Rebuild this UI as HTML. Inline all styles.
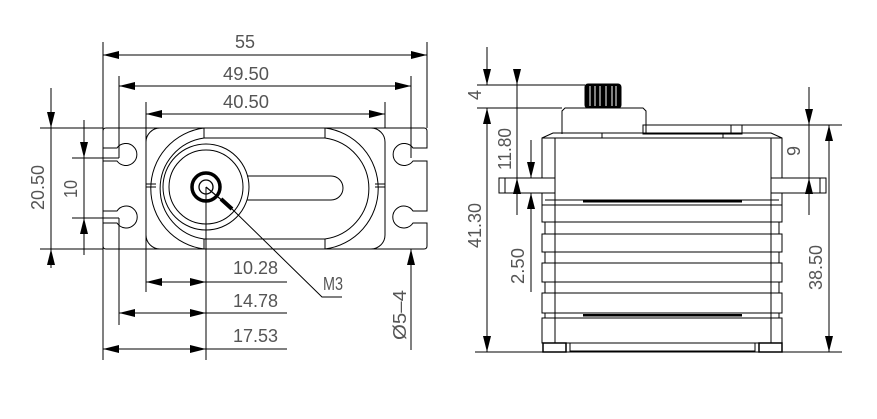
<!DOCTYPE html>
<html><head><meta charset="utf-8"><style>
html,body{margin:0;padding:0;background:#fff;width:877px;height:419px;overflow:hidden}
svg{display:block}
text{font-family:"Liberation Sans",sans-serif;font-size:18px;fill:#555}
</style></head><body>
<svg width="877" height="419" viewBox="0 0 877 419" xmlns="http://www.w3.org/2000/svg">
<defs>
<marker id="a" markerUnits="userSpaceOnUse" markerWidth="18" markerHeight="10" refX="16" refY="4" orient="auto"><path d="M0,0 L16,4 L0,8 z" fill="#000"/></marker>
</defs>
<g stroke="#000" stroke-width="1" fill="none">
<line x1="103" y1="42" x2="103" y2="360"/>
<line x1="427" y1="42" x2="427" y2="128"/>
<line x1="265" y1="55" x2="103" y2="55" marker-end="url(#a)"/>
<line x1="265" y1="55" x2="427" y2="55" marker-end="url(#a)"/>
<line x1="119" y1="76" x2="119" y2="158"/>
<line x1="411" y1="76" x2="411" y2="158"/>
<line x1="265" y1="86" x2="119" y2="86" marker-end="url(#a)"/>
<line x1="265" y1="86" x2="411" y2="86" marker-end="url(#a)"/>
<line x1="146" y1="102" x2="146" y2="292"/>
<line x1="385" y1="102" x2="385" y2="128"/>
<line x1="265" y1="114" x2="146" y2="114" marker-end="url(#a)"/>
<line x1="265" y1="114" x2="385" y2="114" marker-end="url(#a)"/>
<line x1="40" y1="128" x2="103" y2="128"/>
<line x1="40" y1="249" x2="103" y2="249"/>
<line x1="51" y1="88" x2="51" y2="128" marker-end="url(#a)"/>
<line x1="51" y1="268" x2="51" y2="249" marker-end="url(#a)"/>
<line x1="51" y1="128" x2="51" y2="249"/>
<line x1="72" y1="158" x2="119" y2="158"/>
<line x1="72" y1="218" x2="119" y2="218"/>
<line x1="84" y1="120" x2="84" y2="158" marker-end="url(#a)"/>
<line x1="84" y1="255" x2="84" y2="218" marker-end="url(#a)"/>
<line x1="84" y1="158" x2="84" y2="218"/>
<line x1="119" y1="218" x2="119" y2="325"/>
<path d="M106,128 H424 Q427,128 427,131 V148 H413 A11,11 0 1 0 413 161 H427 V211 H413 A11,11 0 1 0 413 223 H427 V246 Q427,249 424,249 H106 Q103,249 103,246 V223 H117 A11,11 0 1 0 117 211 H103 V161 H117 A11,11 0 1 0 117 148 H103 V131 Q103,128 106,128 Z"/>
<rect x="146" y="128" width="239" height="121" rx="14"/>
<path d="M204,128 A61,61 0 0 0 204,249"/>
<path d="M204,138 A51,51 0 0 0 204,239"/>
<path d="M325,128 A61,61 0 0 1 325,249"/>
<path d="M325,138 A51,51 0 0 1 325,239"/>
<line x1="204" y1="138" x2="325" y2="138"/>
<line x1="204" y1="239" x2="325" y2="239"/>
<line x1="204" y1="128" x2="204" y2="138"/>
<line x1="325" y1="128" x2="325" y2="138"/>
<line x1="204" y1="239" x2="204" y2="249"/>
<line x1="325" y1="239" x2="325" y2="249"/>
<line x1="146" y1="184" x2="156" y2="184"/><line x1="146" y1="187" x2="156" y2="187"/>
<line x1="375" y1="184" x2="385" y2="184"/><line x1="375" y1="187" x2="385" y2="187"/>
<circle cx="206" cy="187" r="43"/>
<circle cx="206" cy="187" r="37"/>
<path d="M247,176 H331 A12,12 0 0 1 331,200 H247"/>
<circle cx="206" cy="187" r="14" stroke-width="3.5"/>
<circle cx="206" cy="187" r="7" stroke-width="1.3"/>
<line x1="206" y1="187" x2="230" y2="207" stroke-width="1.2"/>
<line x1="221" y1="199" x2="232" y2="209" stroke-width="4"/>
<polyline points="230,207 322,297 342,297"/>
<line x1="206" y1="187" x2="206" y2="360"/>
<line x1="160" y1="282" x2="146" y2="282" marker-end="url(#a)"/>
<line x1="180" y1="282" x2="206" y2="282" marker-end="url(#a)"/>
<line x1="146" y1="282" x2="287" y2="282"/>
<line x1="119" y1="313" x2="287" y2="313"/>
<line x1="160" y1="313" x2="119" y2="313" marker-end="url(#a)"/>
<line x1="180" y1="313" x2="206" y2="313" marker-end="url(#a)"/>
<line x1="103" y1="349" x2="287" y2="349"/>
<line x1="150" y1="349" x2="103" y2="349" marker-end="url(#a)"/>
<line x1="170" y1="349" x2="206" y2="349" marker-end="url(#a)"/>
<line x1="411" y1="350" x2="411" y2="249" marker-end="url(#a)"/>

<line x1="477" y1="85" x2="585" y2="85"/>
<line x1="477" y1="108" x2="562" y2="108"/>
<line x1="487" y1="47" x2="487" y2="85" marker-end="url(#a)"/>
<line x1="487" y1="130" x2="487" y2="108" marker-end="url(#a)"/>
<line x1="487" y1="108" x2="487" y2="352" marker-end="url(#a)"/>
<line x1="475" y1="352" x2="842" y2="352"/>
<line x1="517" y1="70" x2="517" y2="85" marker-end="url(#a)"/>
<line x1="517" y1="85" x2="517" y2="215"/>
<line x1="517" y1="210" x2="517" y2="178" marker-end="url(#a)"/>
<line x1="531" y1="140" x2="531" y2="178" marker-end="url(#a)"/>
<line x1="531" y1="292" x2="531" y2="193" marker-end="url(#a)"/>
<line x1="742" y1="125" x2="842" y2="125"/>
<line x1="809" y1="87" x2="809" y2="125" marker-end="url(#a)"/>
<line x1="809" y1="125" x2="809" y2="215"/>
<line x1="809" y1="210" x2="809" y2="178" marker-end="url(#a)"/>
<line x1="829" y1="240" x2="829" y2="125" marker-end="url(#a)"/>
<line x1="829" y1="240" x2="829" y2="352" marker-end="url(#a)"/>
<rect x="585" y="84" width="36" height="24" rx="3" fill="#000"/>
<path d="M562,134 V111 L565,108 H643 L646,111 V134"/>
<rect x="643" y="125" width="99" height="9"/>
<line x1="731" y1="125" x2="731" y2="134"/>
<path d="M542,178 V138 L553,133 H771 L782,138 V178"/>
<line x1="542" y1="138" x2="782" y2="138"/>
<line x1="555" y1="138" x2="555" y2="178"/>
<line x1="771" y1="138" x2="771" y2="178"/>
<line x1="602" y1="133" x2="602" y2="138"/>
<line x1="723" y1="133" x2="723" y2="138"/>
<rect x="499" y="178" width="56" height="15"/>
<rect x="771" y="178" width="55" height="15"/>
<line x1="505" y1="178" x2="505" y2="193"/>
<line x1="820" y1="178" x2="820" y2="193"/>
<line x1="542" y1="193" x2="542" y2="205"/>
<line x1="782" y1="193" x2="782" y2="205"/>
<line x1="545" y1="200" x2="779" y2="200"/>
<rect x="542" y="205" width="240" height="17"/>
<rect x="545" y="222" width="234" height="12"/>
<rect x="542" y="234" width="240" height="18"/>
<rect x="545" y="252" width="234" height="11"/>
<rect x="542" y="263" width="240" height="19"/>
<rect x="545" y="282" width="234" height="11"/>
<rect x="542" y="293" width="240" height="20"/>
<rect x="545" y="313" width="234" height="5"/>
<rect x="542" y="318" width="240" height="25"/>
<line x1="555" y1="193" x2="555" y2="343"/>
<line x1="771" y1="193" x2="771" y2="343"/>
<rect x="543" y="343" width="23" height="9" stroke-width="1.5"/>
<rect x="759" y="343" width="23" height="9" stroke-width="1.5"/>
<polyline points="566,343 570,343 570,351 755,351 755,343 759,343"/>
</g>
<rect x="583" y="200" width="159" height="2.5" fill="#000"/>
<rect x="583" y="314" width="159" height="2.5" fill="#000"/>
<g stroke="#fff" stroke-width="1"><line x1="590" y1="86" x2="590" y2="106"/><line x1="595" y1="86" x2="595" y2="106"/><line x1="600" y1="86" x2="600" y2="106"/><line x1="606" y1="86" x2="606" y2="106"/><line x1="612" y1="86" x2="612" y2="106"/><line x1="616" y1="86" x2="616" y2="106"/></g>
<text x="235" y="48" textLength="20" lengthAdjust="spacingAndGlyphs">55</text>
<text x="223" y="80" textLength="46" lengthAdjust="spacingAndGlyphs">49.50</text>
<text x="223" y="108" textLength="46" lengthAdjust="spacingAndGlyphs">40.50</text>
<text x="233" y="274" textLength="45" lengthAdjust="spacingAndGlyphs">10.28</text>
<text x="233" y="307" textLength="45" lengthAdjust="spacingAndGlyphs">14.78</text>
<text x="233" y="342" textLength="45" lengthAdjust="spacingAndGlyphs">17.53</text>
<text x="323" y="290" textLength="20" lengthAdjust="spacingAndGlyphs">M3</text>
<text transform="translate(44,210) rotate(-90)" textLength="45" lengthAdjust="spacingAndGlyphs">20.50</text>
<text transform="translate(77,198) rotate(-90)" textLength="18" lengthAdjust="spacingAndGlyphs">10</text>
<text transform="translate(406,340) rotate(-90)" textLength="50" lengthAdjust="spacingAndGlyphs">Ø5–4</text>
<text transform="translate(481,100) rotate(-90)" textLength="10" lengthAdjust="spacingAndGlyphs">4</text>
<text transform="translate(481,248) rotate(-90)" textLength="45" lengthAdjust="spacingAndGlyphs">41.30</text>
<text transform="translate(511,170) rotate(-90)" textLength="42" lengthAdjust="spacingAndGlyphs">11.80</text>
<text transform="translate(524,284) rotate(-90)" textLength="36" lengthAdjust="spacingAndGlyphs">2.50</text>
<text transform="translate(800,156) rotate(-90)" textLength="10" lengthAdjust="spacingAndGlyphs">9</text>
<text transform="translate(822,290) rotate(-90)" textLength="45" lengthAdjust="spacingAndGlyphs">38.50</text>
</svg>
</body></html>
